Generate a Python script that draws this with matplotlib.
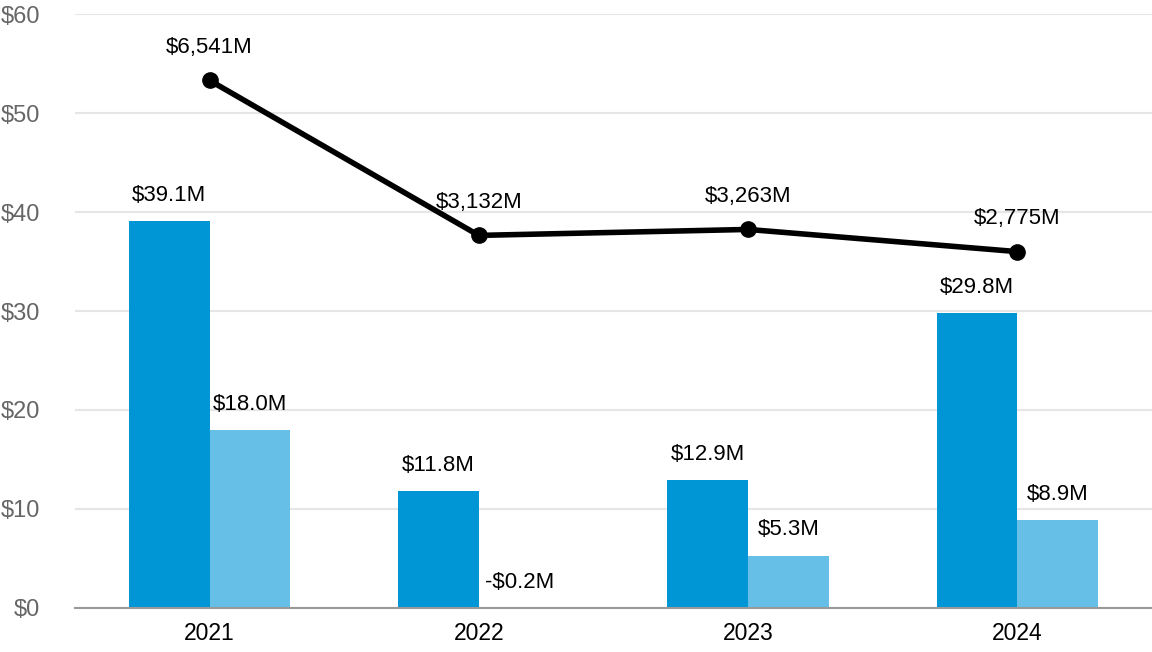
import numpy as np
import matplotlib.pyplot as plt

plt.rcParams['font.family'] = ['Liberation Sans', 'DejaVu Sans']

years = ["2021", "2022", "2023", "2024"]
serie_a = [39.1, 11.8, 12.9, 29.8]
serie_b = [18.0, -0.2, 5.3, 8.9]
linea = [6541, 3132, 3263, 2775]
etiquetas_a = ["$39.1M", "$11.8M", "$12.9M", "$29.8M"]
etiquetas_b = ["$18.0M", "-$0.2M", "$5.3M", "$8.9M"]
etiquetas_linea = ["$6,541M", "$3,132M", "$3,263M", "$2,775M"]
yticks = [0, 10, 20, 30, 40, 50, 60]

azul = "#0096d6"
celeste = "#66bfe6"

fig = plt.figure(figsize=(11.52, 6.52), dpi=100)
ax = fig.add_axes([0.065, 0.0675, 0.935, 0.911])

x = np.arange(len(years))
w = 0.3

ax.bar(x - w / 2, serie_a, w, color=azul, zorder=2)
ax.bar(x + w / 2, serie_b, w, color=celeste, zorder=2)

for i in range(len(years)):
    ax.text(x[i] - w / 2, max(serie_a[i], 0) + 2.6, etiquetas_a[i],
            ha="center", va="center", fontsize=16, color="black")
    ax.text(x[i] + w / 2, max(serie_b[i], 0) + 2.6, etiquetas_b[i],
            ha="center", va="center", fontsize=16, color="black")

ax.set_xlim(-0.5, 3.5)
ax.set_ylim(0, 60)
ax.set_yticks(yticks)
ax.set_yticklabels(["$" + str(t) for t in yticks])
ax.set_xticks(x)
ax.set_xticklabels(years)
ax.tick_params(axis="y", length=0, pad=25, labelsize=17, labelcolor="#666666")
ax.tick_params(axis="x", length=0, pad=10, labelsize=16.5, labelcolor="black")

ax.grid(axis="y", color="#e6e6e6", linewidth=1.5, zorder=0)
for s in ["top", "right", "left"]:
    ax.spines[s].set_visible(False)
ax.spines["bottom"].set_color("#999999")
ax.spines["bottom"].set_linewidth(1.5)
ax.spines["bottom"].set_zorder(3)

ax2 = ax.twinx()
ax2.set_ylim(-5061, 8000)
ax2.plot(x, linea, color="black", linewidth=4, marker="o", markersize=11, zorder=4)
for i in range(len(years)):
    ax2.annotate(etiquetas_linea[i], (x[i], linea[i]), xytext=(0, 24),
                 textcoords="offset points", ha="center", va="center",
                 fontsize=16, color="black")
ax2.axis("off")

fig.savefig("out.png", dpi=100)
